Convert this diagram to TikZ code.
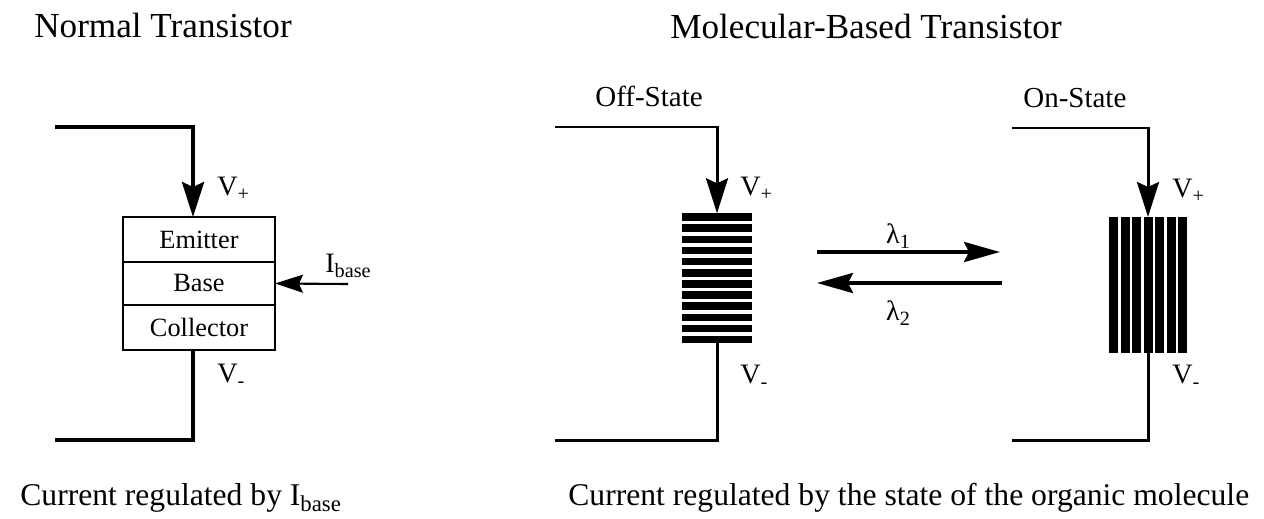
\documentclass[tikz,border=0pt]{standalone}
\usepackage{fontspec}
\setmainfont{Liberation Serif}
\usetikzlibrary{arrows.meta,positioning}
\newcommand{\lowidx}[1]{\raisebox{-0.45ex}{\scalebox{0.72}{#1}}}

\begin{document}
\begin{tikzpicture}[x=0.02cm,y=-0.02cm,
  wire/.style={line width=2.2pt},
  thinwire/.style={line width=1.7pt},
  bigarrow/.style={-{Stealth[length=0.7cm,width=0.44cm,inset=0.1cm]}},
  thinarrow/.style={line width=1.2pt,-{Stealth[length=0.56cm,width=0.36cm,inset=0.08cm]}},
  ratearrow/.style={line width=2pt,-{Stealth[length=0.72cm,width=0.4cm,inset=0.1cm]}},
  layer/.style={draw,line width=1.1pt,outer sep=0pt,inner sep=0pt,minimum width=3.04cm,font=\fontsize{15}{18}\selectfont},
  title/.style={anchor=base west,inner sep=0pt,font=\fontsize{20}{24}\selectfont},
  state/.style={anchor=base west,inner sep=0pt,font=\fontsize{16.5}{20}\selectfont},
  volt/.style={anchor=base west,inner sep=0pt,font=\fontsize{16}{19}\selectfont},
  caption/.style={anchor=base west,inner sep=0pt,font=\fontsize{18}{22}\selectfont}]
\useasboundingbox (0,0) rectangle (1264,518);

% normal transistor
\node[title] (normal) at (34,37) {Normal Transistor};
\node[layer,minimum height=0.9cm] (emitter) at (199,239.5) {Emitter};
\node[layer,minimum height=0.86cm,below=0pt of emitter] (base) {Base};
\node[layer,minimum height=0.9cm,below=0pt of base] (collector) {Collector};
\coordinate (ntop) at (55,127);
\coordinate (nbot) at (55,440);
\coordinate (nin) at (193,217);
\coordinate (nout) at (193,350);
\draw[wire,bigarrow] (ntop) -- (ntop -| nin) -- (nin);
\draw[wire] (nout) -- (nout |- nbot) -- (nbot);
\node[volt] (nvp) at (217,195) {V\lowidx{+}};
\node[volt] (nvm) at (217,382) {V\lowidx{-}};
\coordinate (ib) at (348,284);
\draw[thinarrow] (ib) -- (base.east);
\node[volt] (ibase) at (325,272) {I\lowidx{base}};
\node[caption] (ncap) at (20,505) {Current regulated by I\lowidx{base}};

% molecular transistor
\node[title] (molecular) at (670,38) {Molecular-Based Transistor};

% off state: bars lying flat
\node[state] (off) at (595,106) {Off-State};
\foreach \i in {0,...,11}
  \fill (682,{213.3+\i*11.14}) rectangle ++(70,7.6);
\coordinate (offtop) at (555,127);
\coordinate (offbot) at (555,440);
\coordinate (offin) at (717,213.3);
\coordinate (offout) at (717,343);
\draw[thinwire,bigarrow] (offtop) -- (offtop -| offin) -- (offin);
\draw[thinwire] (offout) -- (offout |- offbot) -- (offbot);
\node[volt] (offvp) at (740,195) {V\lowidx{+}};
\node[volt] (offvm) at (740,383) {V\lowidx{-}};

% switching
\coordinate (fwa) at (817,252);
\coordinate (fwb) at (1000,252);
\coordinate (bka) at (1002,283);
\coordinate (bkb) at (817,283);
\draw[ratearrow] (fwa) -- (fwb);
\draw[ratearrow] (bka) -- (bkb);
\node[volt,anchor=base] (lam1) at (898,243) {λ\lowidx{1}};
\node[volt,anchor=base] (lam2) at (898,320) {λ\lowidx{2}};

% on state: bars standing up
\node[state] (on) at (1023,107) {On-State};
\foreach \i in {0,...,6}
  \fill ({1109+\i*11.5},217) rectangle ++(9,136);
\coordinate (ontop) at (1012,128);
\coordinate (onbot) at (1012,440);
\coordinate (onin) at (1148,217);
\coordinate (onout) at (1148,353);
\draw[thinwire,bigarrow] (ontop) -- (ontop -| onin) -- (onin);
\draw[thinwire] (onout) -- (onout |- onbot) -- (onbot);
\node[volt] (onvp) at (1172,197) {V\lowidx{+}};
\node[volt] (onvm) at (1172,383) {V\lowidx{-}};

\node[caption] (mcap) at (568,505) {Current regulated by the state of the organic molecule};
\end{tikzpicture}
\end{document}
